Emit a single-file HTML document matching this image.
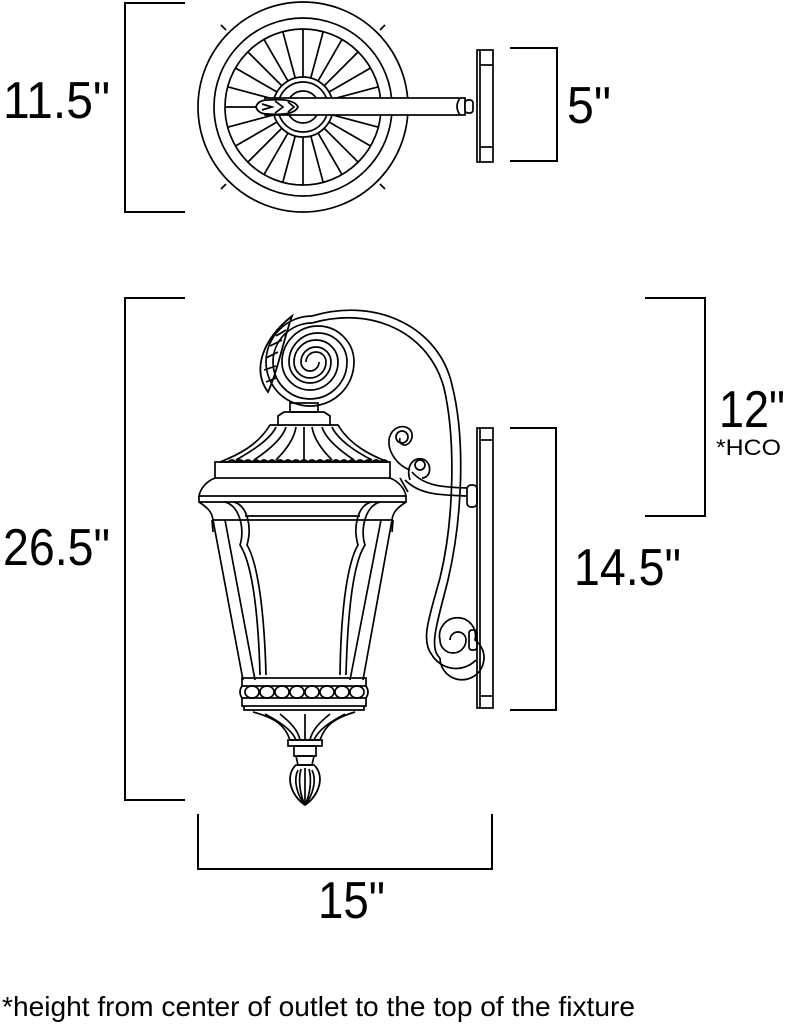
<!DOCTYPE html>
<html><head><meta charset="utf-8"><style>
html,body{margin:0;padding:0;background:#fff;}
svg{display:block;}
text{font-family:"Liberation Sans",sans-serif;fill:#000;}
</style></head><body>
<svg width="788" height="1028" viewBox="0 0 788 1028" xmlns="http://www.w3.org/2000/svg">
<g fill="none" stroke="#000" stroke-width="2">
<polyline points="185,3 125,3 125,212 185,212"/>
<polyline points="510,48 557,48 557,161 510,161"/>
<polyline points="185,298 125,298 125,800 185,800"/>
<polyline points="645,298 705,298 705,516 645,516"/>
<polyline points="510,428 556,428 556,710 510,710"/>
<polyline points="198,814 198,869 492,869 492,814"/>
</g>
<text x="3" y="118" font-size="52" textLength="107" lengthAdjust="spacingAndGlyphs">11.5"</text>
<text x="567" y="123" font-size="52" textLength="44" lengthAdjust="spacingAndGlyphs">5"</text>
<text x="3" y="565" font-size="52" textLength="107" lengthAdjust="spacingAndGlyphs">26.5"</text>
<text x="719" y="427" font-size="52" textLength="66" lengthAdjust="spacingAndGlyphs">12"</text>
<text x="716" y="455" font-size="22" textLength="65" lengthAdjust="spacingAndGlyphs">*HCO</text>
<text x="574" y="585" font-size="52" textLength="107" lengthAdjust="spacingAndGlyphs">14.5"</text>
<text x="318" y="918" font-size="52" textLength="67" lengthAdjust="spacingAndGlyphs">15"</text>
<text x="2" y="1016" font-size="28" textLength="633" lengthAdjust="spacingAndGlyphs">*height from center of outlet to the top of the fixture</text>

<!-- TOP VIEW -->
<g fill="none" stroke="#000" stroke-width="1.7">
<circle cx="303" cy="107" r="105"/>
<circle cx="303" cy="107" r="89"/>
<circle cx="303" cy="107" r="78"/>
<path d="M226,30 l-5,-5 M380,30 l5,-5 M226,184 l-5,5 M380,184 l5,5"/>
<g id="sp">
<line x1="303" y1="29" x2="303" y2="77"/>
</g>
<use href="#sp" transform="rotate(15 303 107)"/><use href="#sp" transform="rotate(30 303 107)"/>
<use href="#sp" transform="rotate(45 303 107)"/><use href="#sp" transform="rotate(60 303 107)"/>
<use href="#sp" transform="rotate(75 303 107)"/><use href="#sp" transform="rotate(90 303 107)"/>
<use href="#sp" transform="rotate(105 303 107)"/><use href="#sp" transform="rotate(120 303 107)"/>
<use href="#sp" transform="rotate(135 303 107)"/><use href="#sp" transform="rotate(150 303 107)"/>
<use href="#sp" transform="rotate(165 303 107)"/><use href="#sp" transform="rotate(180 303 107)"/>
<use href="#sp" transform="rotate(195 303 107)"/><use href="#sp" transform="rotate(210 303 107)"/>
<use href="#sp" transform="rotate(225 303 107)"/><use href="#sp" transform="rotate(240 303 107)"/>
<use href="#sp" transform="rotate(255 303 107)"/><use href="#sp" transform="rotate(270 303 107)"/>
<use href="#sp" transform="rotate(285 303 107)"/><use href="#sp" transform="rotate(300 303 107)"/>
<use href="#sp" transform="rotate(315 303 107)"/><use href="#sp" transform="rotate(330 303 107)"/>
<use href="#sp" transform="rotate(345 303 107)"/>
<circle cx="303" cy="107" r="30" fill="#fff"/>
<circle cx="303" cy="107" r="25"/>
<circle cx="303" cy="107" r="16"/>
<rect x="265" y="98" width="200" height="17" fill="#fff"/>
<path d="M460,98 q-6,8.5 0,17"/>
<rect x="465" y="100" width="8" height="13" rx="3" fill="#fff"/>
<path d="M268,100 q-10,0 -12,7 q2,7 12,7 q26,2 30,-7 q-4,-9 -30,-7z" fill="#fff" stroke-width="1.8"/>
<path d="M262,104 l10,3 l-10,3 M275,101 l8,6 l-8,6 M288,102 l6,5 l-6,5"/>
<rect x="477" y="50" width="16" height="112" fill="#fff"/>
<line x1="480" y1="50" x2="480" y2="162"/>
<line x1="480" y1="65" x2="493" y2="65"/><line x1="480" y1="147" x2="493" y2="147"/>
</g>

<!-- SIDE VIEW -->
<g fill="none" stroke="#000" stroke-width="1.7">
<rect x="477" y="428" width="16" height="280"/>
<line x1="480" y1="428" x2="480" y2="708"/>
<line x1="480" y1="440" x2="493" y2="440"/><line x1="480" y1="696" x2="493" y2="696"/>
<rect x="467" y="485" width="10" height="22" rx="4"/>
<rect x="469" y="630" width="8" height="20" rx="3"/>
<path d="M312,316 C380,296 440,330 452,385 C466,440 462,520 448,580 C438,620 428,648 440,658"/>
<path d="M312,323 C375,305 430,335 444,388 C456,440 454,520 440,578 C430,615 420,640 432,655"/>
<path d="M312,316 A46,46 0 0 0 266,362 A44,44 0 0 0 354,362 A36,36 0 0 0 282,362 A28,28 0 0 0 338,362 A22,22 0 0 0 294,362 A16,16 0 0 0 326,362 A10,10 0 0 0 306,362"/>
<path d="M312,323 A39,39 0 0 0 273,362 A37,37 0 0 0 347,362 A29,29 0 0 0 289,362 A21,21 0 0 0 331,362 A15,15 0 0 0 301,362 A9,9 0 0 0 319,362"/>
<path d="M268,392 C252,370 262,340 292,316 C282,345 278,370 268,392z" stroke-width="1.8"/>
<path d="M266,382 l10,-4 M264,370 l12,-4 M266,358 l12,-6 M270,346 l12,-6 M276,336 l10,-6"/>
<path d="M440,658 A22,22 0 1 0 475,640 A18,18 0 1 0 440,640 A13,13 0 1 0 466,640 A8,8 0 1 0 450,640"/>
<path d="M432,655 A28,28 0 0 0 476,660"/>
<path d="M410,470 C395,465 383,445 392,432 C402,420 418,430 410,442 C405,448 398,444 400,438"/>
<circle cx="402" cy="437" r="6"/>
<path d="M410,480 C405,465 415,455 425,460 C433,466 430,478 422,478"/>
<circle cx="420" cy="465" r="5"/>
<path d="M405,480 C420,495 440,495 467,496"/>
<path d="M412,472 C425,487 445,487 467,488"/>
<line x1="400" y1="478" x2="408" y2="492"/>
<rect x="290" y="403" width="28" height="9"/>
<path d="M278,425 L278,416 L284,412 L324,412 L330,416 L330,425"/>
<path d="M270,425 L338,425 C350,445 370,455 388,462 L220,462 C238,455 258,445 270,425z"/>
<path d="M228,462 q4,-4 8,0 q4,-4 8,0 q4,-4 8,0 q4,-4 8,0 q4,-4 8,0 q4,-4 8,0 q4,-4 8,0 q4,-4 8,0 q4,-4 8,0 q4,-4 8,0 q4,-4 8,0 q4,-4 8,0 q4,-4 8,0 q4,-4 8,0 q4,-4 8,0 q4,-4 8,0 q4,-4 8,0 q4,-4 8,0 q4,-4 8,0 q4,-4 8,0"/>
<path d="M276,427 C270,440 250,452 236,460 M286,427 C282,440 266,452 254,460 M296,427 C294,440 284,452 276,460 M304,427 L304,460 M312,427 C314,440 324,452 332,460 M322,427 C326,440 342,452 354,460 M332,427 C338,440 356,452 372,460"/>
<rect x="215" y="462" width="175" height="16"/>
<path d="M215,478 C205,482 200,490 199,496 L406,496 C405,490 400,482 390,478"/>
<path d="M199,496 L199,502 L406,502 L406,496"/>
<path d="M199,502 C208,508 212,512 213,520 L392,520 C393,512 397,508 406,502"/>
<line x1="212" y1="520" x2="213" y2="532"/><line x1="393" y1="520" x2="392" y2="532"/>
<line x1="245" y1="516" x2="360" y2="516"/>
<path d="M213,520 L243,680 M225,520 L255,680 M392,520 L363,680 M381,520 L350,680"/>
<path d="M225,502 C240,506 245,530 240,545 C250,560 258,600 260,675"/>
<path d="M234,502 C248,506 252,528 247,545 C256,560 264,600 266,675"/>
<path d="M380,502 C365,506 360,530 365,545 C355,560 348,600 346,675"/>
<path d="M371,502 C357,506 353,528 358,545 C349,560 341,600 340,675"/>
<rect x="242" y="678" width="124" height="8"/>
<rect x="242" y="698" width="124" height="8"/>
<path d="M242,686 Q238,692 242,698 M366,686 Q370,692 366,698"/>
<ellipse cx="252" cy="692" rx="7" ry="6"/><ellipse cx="267" cy="692" rx="7" ry="6"/>
<ellipse cx="282" cy="692" rx="7" ry="6"/><ellipse cx="297" cy="692" rx="7" ry="6"/>
<ellipse cx="312" cy="692" rx="7" ry="6"/><ellipse cx="327" cy="692" rx="7" ry="6"/>
<ellipse cx="342" cy="692" rx="7" ry="6"/><ellipse cx="357" cy="692" rx="7" ry="6"/>
<path d="M244,706 L244,710 L364,710 L364,706"/>
<path d="M253,712 C275,718 285,725 290,740 L320,740 C325,725 335,718 355,712"/>
<path d="M265,714 C280,722 292,730 296,740 M280,714 C290,722 298,730 300,740 M305,714 L305,740 M330,714 C320,722 312,730 310,740 M345,714 C330,722 318,730 314,740"/>
<rect x="288" y="740" width="34" height="6"/>
<rect x="294" y="746" width="22" height="10"/>
<path d="M296,756 L314,756 L312,765 L298,765z"/>
<path d="M296,765 C285,775 290,795 305,805 C320,795 325,775 314,765z" stroke-width="1.8"/>
<path d="M298,770 C293,780 297,795 305,805 M312,770 C317,780 313,795 305,805 M305,768 L305,805 M301,769 C298,780 300,795 305,805 M309,769 C312,780 310,795 305,805"/>
</g>
</svg>
</body></html>
